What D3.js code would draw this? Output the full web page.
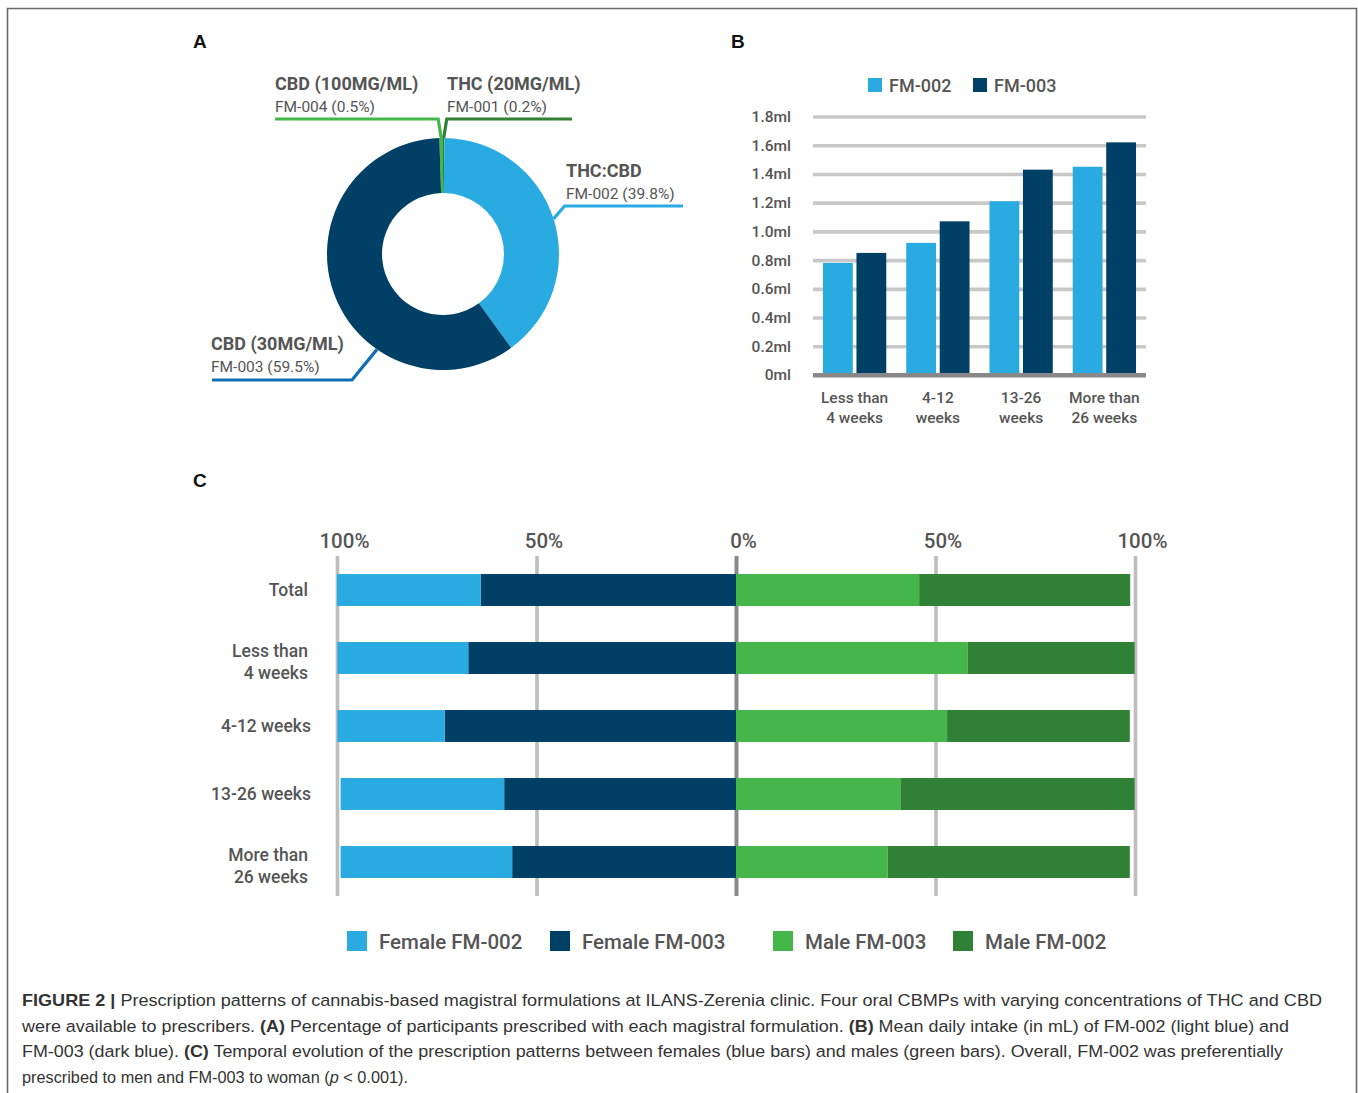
<!DOCTYPE html>
<html>
<head>
<meta charset="utf-8">
<script src="https://cdn.jsdelivr.net/npm/d3@7"></script>
<style>
  body { margin: 0; background: #fff; }
  svg { display: block; font-family: Roboto, "Noto Sans", sans-serif; }
</style>
</head>
<body>
<svg id="fig" width="1358" height="1093"></svg>
<script>
// ---- Panel A: share of participants prescribed each formulation (%)
const formulationCodes = ["FM-004", "FM-001", "FM-002", "FM-003"];
const formulationNames = ["CBD (100MG/ML)", "THC (20MG/ML)", "THC:CBD", "CBD (30MG/ML)"];
const formulationShare = [0.5, 0.2, 39.8, 59.5];

// ---- Panel B: mean daily intake (ml) by treatment duration
const durationGroups = [["Less than", "4 weeks"], ["4-12", "weeks"], ["13-26", "weeks"], ["More than", "26 weeks"]];
const intakeFM002 = [0.78, 0.92, 1.21, 1.45];
const intakeFM003 = [0.85, 1.07, 1.43, 1.62];
const intakeTicks = [0, 0.2, 0.4, 0.6, 0.8, 1.0, 1.2, 1.4, 1.6, 1.8];
const intakeTickLabels = ["0ml", "0.2ml", "0.4ml", "0.6ml", "0.8ml", "1.0ml", "1.2ml", "1.4ml", "1.6ml", "1.8ml"];
const intakeSeries = ["FM-002", "FM-003"];

// ---- Panel C: prescription split by sex (%)
const rowLabels = [["Total"], ["Less than", "4 weeks"], ["4-12 weeks"], ["13-26 weeks"], ["More than", "26 weeks"]];
const femaleFM002 = [36.0, 32.8, 26.9, 41.0, 43.0];
const femaleFM003 = [64.0, 67.1, 73.0, 58.1, 56.1];
const maleFM003 = [45.9, 58.1, 52.9, 41.2, 38.0];
const maleFM002 = [52.9, 41.8, 45.8, 58.7, 60.7];
const shareTicks = [-100, -50, 0, 50, 100];
const shareTickLabels = ["100%", "50%", "0%", "50%", "100%"];
const sexLegend = ["Female FM-002", "Female FM-003", "Male FM-003", "Male FM-002"];

// ---- Caption
const captionLines = [
  [["b", "FIGURE 2 |"], ["r", " Prescription patterns of cannabis-based magistral formulations at ILANS-Zerenia clinic. Four oral CBMPs with varying concentrations of THC and CBD"]],
  [["r", "were available to prescribers. "], ["b", "(A)"], ["r", " Percentage of participants prescribed with each magistral formulation. "], ["b", "(B)"], ["r", " Mean daily intake (in mL) of FM-002 (light blue) and"]],
  [["r", "FM-003 (dark blue). "], ["b", "(C)"], ["r", " Temporal evolution of the prescription patterns between females (blue bars) and males (green bars). Overall, FM-002 was preferentially"]],
  [["r", "prescribed to men and FM-003 to woman ("], ["i", "p"], ["r", " < 0.001)."]]
];

const C = {
  lightBlue: "#29abe2",
  darkBlue: "#003f66",
  green: "#45b649",
  darkGreen: "#308035",
  leaderBlue: "#0f6fb6",
  text: "#555555",
  grid: "#c8c8c8",
  axis: "#888888"
};

const svg = d3.select("#fig");
svg.append("rect").attr("width", 1358).attr("height", 1093).attr("fill", "#fff");

// figure frame (open at the bottom)
svg.append("path")
  .attr("d", "M7.5,1093 V8.5 H1356.5 V1093")
  .attr("fill", "none").attr("stroke", "#6a6a6a").attr("stroke-width", 1.6);

// panel letters
[["A", 193, 48], ["B", 731, 48], ["C", 193, 487]].forEach(([t, x, y]) => {
  svg.append("text").attr("x", x).attr("y", y).text(t)
    .attr("font-family", "'Liberation Sans', Arial, sans-serif")
    .attr("font-weight", "bold").attr("font-size", 19).attr("fill", "#111");
});

// ================= Panel A: donut =================
(function () {
  const cx = 443, cy = 254, rOut = 116, rIn = 61;
  const offset = -(formulationShare[0] / 100) * 2 * Math.PI;
  const pie = d3.pie().sort(null).value(d => d)
    .startAngle(offset).endAngle(offset + 2 * Math.PI);
  const arcs = pie(formulationShare);
  const arc = d3.arc().innerRadius(rIn).outerRadius(rOut);
  const sliceColor = [C.green, C.darkGreen, C.lightBlue, C.darkBlue];
  const leaderColor = [C.green, C.darkGreen, C.lightBlue, C.leaderBlue];

  const g = svg.append("g").attr("transform", `translate(${cx},${cy})`);
  g.selectAll("path").data(arcs).join("path")
    .attr("d", arc).attr("fill", (d, i) => sliceColor[i]);

  // leader layout: where along the slice the line starts, the elbow and the label
  const leaders = [
    { t: 0.5, elbowDx: -3, elbowY: 119, endX: 275, labelX: 275, labelY: 90 },
    { t: 0.5, elbowDx: 3, elbowY: 119, endX: 572, labelX: 447, labelY: 90 },
    { t: 0.5, elbowDx: 11, elbowY: 206, endX: 683, labelX: 566, labelY: 177 },
    { t: 0.33, elbowDx: -25, elbowY: 380, endX: 212, labelX: 211, labelY: 350 }
  ];

  arcs.forEach((a, i) => {
    const L = leaders[i];
    const ang = a.startAngle + (a.endAngle - a.startAngle) * L.t;
    const x0 = cx + rOut * Math.sin(ang), y0 = cy - rOut * Math.cos(ang);
    const x1 = x0 + L.elbowDx;
    svg.append("path")
      .attr("d", `M${x0},${y0} L${x1},${L.elbowY} L${L.endX},${L.elbowY}`)
      .attr("fill", "none").attr("stroke", leaderColor[i]).attr("stroke-width", 3.2)
      .attr("stroke-linejoin", "miter");
    svg.append("text").attr("x", L.labelX).attr("y", L.labelY)
      .text(formulationNames[i])
      .attr("font-size", 18).attr("font-weight", "bold").attr("fill", C.text);
    svg.append("text").attr("x", L.labelX).attr("y", L.labelY + 22)
      .text(`${formulationCodes[i]} (${formulationShare[i]}%)`)
      .attr("font-size", 15.5).attr("fill", C.text);
  });
})();

// ================= Panel B: grouped bars =================
(function () {
  const left = 813, right = 1146, top = 116.5, bottom = 375;
  const y = d3.scaleLinear().domain([0, 1.8]).range([bottom, top]);
  const x0 = d3.scaleBand().domain(d3.range(durationGroups.length)).range([left, right])
    .paddingInner(0.24).paddingOuter(0.12);
  const x1 = d3.scaleBand().domain(intakeSeries).range([0, x0.bandwidth()]).paddingInner(0.11);
  const barColor = { "FM-002": C.lightBlue, "FM-003": C.darkBlue };

  const axis = svg.append("g").attr("transform", `translate(${left},0)`)
    .call(d3.axisLeft(y).tickValues(intakeTicks)
      .tickFormat((d, i) => intakeTickLabels[i])
      .tickSize(-(right - left)).tickPadding(22));
  axis.select(".domain").remove();
  axis.selectAll(".tick line")
    .attr("stroke", d => d === 0 ? C.axis : C.grid)
    .attr("stroke-width", d => d === 0 ? 4 : 3.6);
  axis.selectAll(".tick text")
    .attr("font-family", "Roboto, sans-serif").attr("font-size", 15.5)
    .attr("font-weight", 500).attr("fill", C.text);

  const rows = durationGroups.map((g, i) => ({ i, "FM-002": intakeFM002[i], "FM-003": intakeFM003[i] }));
  const bars = svg.append("g");
  rows.forEach(r => {
    intakeSeries.forEach(s => {
      bars.append("rect")
        .attr("x", x0(r.i) + x1(s)).attr("width", x1.bandwidth())
        .attr("y", y(r[s])).attr("height", y(0) - y(r[s]) - 2)
        .attr("fill", barColor[s]);
    });
  });

  // zero line on top of the bars
  svg.append("line").attr("x1", left).attr("x2", right).attr("y1", y(0)).attr("y2", y(0))
    .attr("stroke", C.axis).attr("stroke-width", 4);

  // category labels
  durationGroups.forEach((lines, i) => {
    const t = svg.append("text").attr("text-anchor", "middle")
      .attr("font-size", 15.5).attr("font-weight", 500).attr("fill", C.text);
    lines.forEach((ln, k) => {
      t.append("tspan").attr("x", x0(i) + x0.bandwidth() / 2).attr("y", 403 + k * 20).text(ln);
    });
  });

  // legend
  const lg = [[868, "FM-002"], [973, "FM-003"]];
  lg.forEach(([lx, s]) => {
    svg.append("rect").attr("x", lx).attr("y", 78).attr("width", 14).attr("height", 14).attr("fill", barColor[s]);
    svg.append("text").attr("x", lx + 21).attr("y", 91.5).text(s)
      .attr("font-size", 18).attr("font-weight", 500).attr("fill", C.text);
  });
})();

// ================= Panel C: diverging stacked bars =================
(function () {
  const top = 556, bottom = 896;
  const x = d3.scaleLinear().domain([-100, 100]).range([337, 1135]);
  const yb = d3.scaleBand().domain(d3.range(rowLabels.length)).range([top, bottom])
    .paddingInner(0.53).paddingOuter(0.265);

  const axis = svg.append("g").attr("transform", `translate(0,${top})`)
    .call(d3.axisTop(x).tickValues(shareTicks)
      .tickFormat((d, i) => shareTickLabels[i])
      .tickSize(-(bottom - top)).tickPadding(8));
  axis.select(".domain").remove();
  axis.selectAll(".tick line")
    .attr("stroke", d => d === 0 ? C.axis : "#bdbdbd")
    .attr("stroke-width", d => d === 0 ? 4 : 3.6);
  axis.selectAll(".tick text")
    .attr("dx", 7).attr("font-family", "Roboto, sans-serif")
    .attr("font-size", 20.5).attr("font-weight", 500).attr("fill", C.text);

  const g = svg.append("g");
  rowLabels.forEach((lab, i) => {
    const y0 = yb(i), h = yb.bandwidth();
    const segs = [
      [x(-femaleFM003[i]), x(0), C.darkBlue],
      [x(-femaleFM003[i] - femaleFM002[i]), x(-femaleFM003[i]), C.lightBlue],
      [x(0), x(maleFM003[i]), C.green],
      [x(maleFM003[i]), x(maleFM003[i] + maleFM002[i]), C.darkGreen]
    ];
    segs.forEach(([a, b, col]) => {
      g.append("rect").attr("x", a).attr("width", b - a).attr("y", y0).attr("height", h).attr("fill", col);
    });

    const cyRow = y0 + h / 2;
    const t = svg.append("text").attr("text-anchor", "end").attr("font-size", 17.5)
      .attr("font-weight", 500).attr("fill", C.text);
    const n = lab.length;
    const shift = n > 1 ? 3.5 : 0;
    lab.forEach((ln, k) => {
      t.append("tspan").attr("x", lab[0].length > 9 && n === 1 ? 311 : 308)
        .attr("y", cyRow + 6 + shift + (k - (n - 1) / 2) * 22).text(ln);
    });
  });

  // legend
  const legendColors = [C.lightBlue, C.darkBlue, C.green, C.darkGreen];
  const legendX = [347, 550, 773, 953];
  sexLegend.forEach((s, i) => {
    svg.append("rect").attr("x", legendX[i]).attr("y", 931).attr("width", 20).attr("height", 20).attr("fill", legendColors[i]);
    svg.append("text").attr("x", legendX[i] + 32).attr("y", 948.5).text(s)
      .attr("font-size", 20.5).attr("font-weight", 500).attr("fill", C.text);
  });
})();

// ================= Caption =================
(function () {
  const widths = [1300, 1267, 1261, null];
  captionLines.forEach((parts, li) => {
    const t = svg.append("text").attr("x", 22).attr("y", 1006 + li * 25.5)
      .attr("font-family", "'Liberation Sans', Arial, sans-serif")
      .attr("font-size", 16.3).attr("fill", "#333");
    parts.forEach(([style, str]) => {
      const sp = t.append("tspan").text(str);
      if (style === "b") sp.attr("font-weight", "bold");
      if (style === "i") sp.attr("font-style", "italic");
    });
    if (widths[li]) {
      const natural = t.node().getComputedTextLength();
      if (Math.abs(natural - widths[li]) > 4) {
        t.attr("textLength", widths[li]).attr("lengthAdjust", "spacingAndGlyphs");
      }
    }
  });
})();
</script>
</body>
</html>
